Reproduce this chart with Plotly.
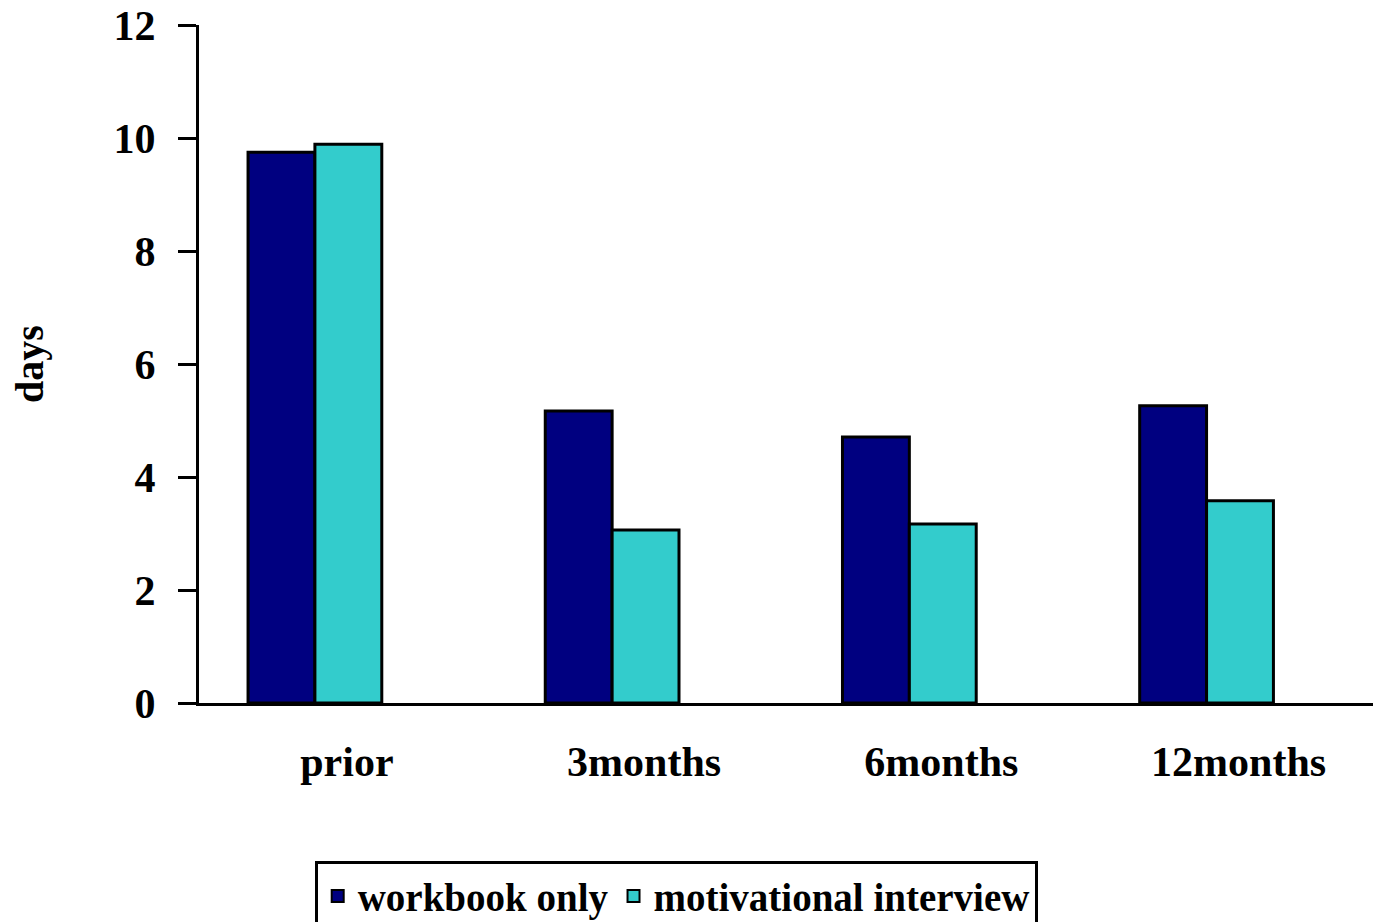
import plotly.graph_objects as go

categories = ["prior", "3months", "6months", "12months"]
workbook_only = [9.75, 5.17, 4.71, 5.26]
motivational_interview = [9.89, 3.06, 3.17, 3.58]
y_ticks = [0, 2, 4, 6, 8, 10, 12]

FONT = "Liberation Serif"

fig = go.Figure()
fig.add_trace(go.Bar(
    name="workbook only", x=categories, y=workbook_only,
    marker=dict(color="#000080", line=dict(color="black", width=3)),
))
fig.add_trace(go.Bar(
    name="motivational interview", x=categories, y=motivational_interview,
    marker=dict(color="#33CCCC", line=dict(color="black", width=3)),
))

fig.update_layout(
    width=1373, height=922,
    margin=dict(l=199, r=0, t=25, b=219, autoexpand=False),
    paper_bgcolor="white", plot_bgcolor="white",
    barmode="group", bargap=0.55, bargroupgap=0,
    font=dict(family=FONT, size=36, color="black"),
    showlegend=True,
    legend=dict(
        orientation="h", xref="container", yref="container",
        x=0.4925, xanchor="center", y=0.066, yanchor="top",
        bordercolor="black", borderwidth=3,
        font=dict(family=FONT, size=39, color="black", weight="bold"),
        itemsizing="constant", traceorder="normal",
    ),
    xaxis=dict(
        range=[-0.39, 3.56], showline=True, linecolor="black", linewidth=3,
        ticks="", showgrid=False, zeroline=False, automargin=False,
        tickfont=dict(family=FONT, size=42, color="black", weight="bold"),
        ticklabelshift=32, ticklabelstandoff=20,
    ),
    yaxis=dict(
        range=[0, 12], tickvals=y_ticks, showline=True, linecolor="black", linewidth=3,
        ticks="outside", ticklen=18, tickwidth=3, tickcolor="black",
        showgrid=False, zeroline=False, automargin=False,
        tickfont=dict(family=FONT, size=42, color="black", weight="bold"),
        ticklabelstandoff=14,
        title=dict(text="days", font=dict(family=FONT, size=40, color="black", weight="bold"),
                   standoff=58),
    ),
)

fig.write_html("out.html", config={"displayModeBar": False},
               post_script="document.body.style.margin='0';")
